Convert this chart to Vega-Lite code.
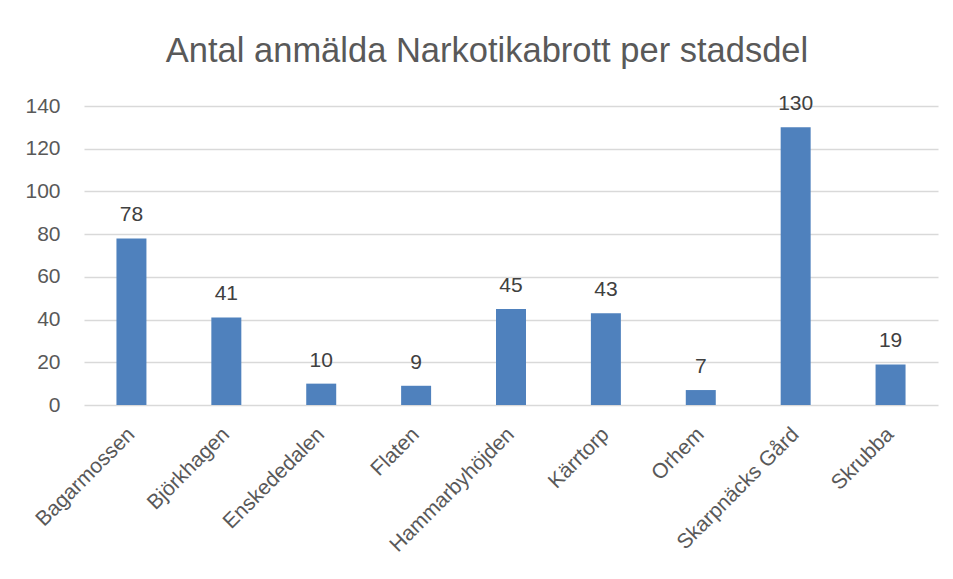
{
  "$schema": "https://vega.github.io/schema/vega-lite/v6.json",
  "width": 854,
  "height": 299,
  "autosize": {"type": "none"},
  "padding": {"left": 84, "top": 106, "right": 15, "bottom": 174},
  "background": "white",
  "title": {
    "text": "Antal anmälda Narkotikabrott per stadsdel",
    "anchor": "middle",
    "font": "Liberation Sans",
    "fontSize": 34.5,
    "fontWeight": "normal",
    "color": "#595959",
    "dx": -24,
    "offset": 24
  },
  "data": {
    "values": [
      {"stadsdel": "Bagarmossen", "antal": 78},
      {"stadsdel": "Björkhagen", "antal": 41},
      {"stadsdel": "Enskededalen", "antal": 10},
      {"stadsdel": "Flaten", "antal": 9},
      {"stadsdel": "Hammarbyhöjden", "antal": 45},
      {"stadsdel": "Kärrtorp", "antal": 43},
      {"stadsdel": "Orhem", "antal": 7},
      {"stadsdel": "Skarpnäcks Gård", "antal": 130},
      {"stadsdel": "Skrubba", "antal": 19}
    ]
  },
  "encoding": {
    "x": {
      "field": "stadsdel",
      "type": "nominal",
      "sort": null,
      "scale": {"paddingInner": 0.684, "paddingOuter": 0.342},
      "axis": {
        "title": null,
        "domain": false,
        "ticks": false,
        "labelAngle": -45,
        "labelAlign": "right",
        "labelBaseline": "middle",
        "labelPadding": 26,
        "labelFont": "Liberation Sans",
        "labelFontSize": 21,
        "labelColor": "#595959"
      }
    },
    "y": {
      "field": "antal",
      "type": "quantitative",
      "scale": {"domain": [0, 140]},
      "axis": {
        "title": null,
        "values": [0, 20, 40, 60, 80, 100, 120, 140],
        "domain": false,
        "ticks": false,
        "grid": true,
        "gridColor": "#d9d9d9",
        "gridWidth": 1.3,
        "labelPadding": 24,
        "labelFont": "Liberation Sans",
        "labelFontSize": 21,
        "labelColor": "#595959"
      }
    }
  },
  "layer": [
    {"mark": {"type": "bar", "color": "#4f81bd"}},
    {
      "mark": {
        "type": "text",
        "baseline": "alphabetic",
        "dy": -17,
        "font": "Liberation Sans",
        "fontSize": 21,
        "color": "#404040"
      },
      "encoding": {"text": {"field": "antal", "type": "quantitative"}}
    }
  ],
  "config": {"view": {"stroke": null}}
}
